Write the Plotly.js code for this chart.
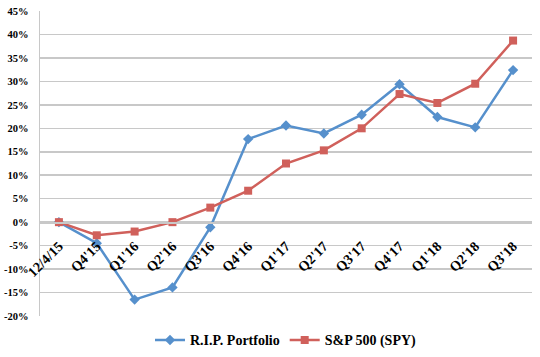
<!DOCTYPE html>
<html>
<head>
<meta charset="utf-8">
<script src="https://cdn.plot.ly/plotly-3.0.1.min.js"></script>
<style>html,body{margin:0;padding:0;background:#fff;}#chart{width:540px;height:357px;}</style>
</head>
<body>
<div id="chart"></div>
<script>
const categories = ["12/4/15","Q4'15","Q1'16","Q2'16","Q3'16","Q4'16","Q1'17","Q2'17","Q3'17","Q4'17","Q1'18","Q2'18","Q3'18"];
const ripPortfolio = [0, -4.5, -16.5, -13.9, -1.1, 17.7, 20.6, 18.9, 22.9, 29.4, 22.4, 20.2, 32.4];
const spy = [0, -2.8, -2.0, 0, 3.1, 6.7, 12.5, 15.3, 20.0, 27.3, 25.4, 29.5, 38.7];
const yTicks = [-20,-15,-10,-5,0,5,10,15,20,25,30,35,40,45];

const serif = "Liberation Serif, Times New Roman, serif";
const gridCol = "#c8c8c8";
const blue = "#5690CC", red = "#D0605B";
const yMin = -20, yMax = 45;

const traces = [
  {x: categories, y: ripPortfolio, name: "R.I.P. Portfolio", type: "scatter", mode: "lines+markers",
   line: {color: blue, width: 2.5}, marker: {symbol: "diamond", size: 8, color: blue}},
  {x: categories, y: spy, name: "S&P 500 (SPY)", type: "scatter", mode: "lines+markers",
   line: {color: red, width: 2.5}, marker: {symbol: "square", size: 8, color: red}}
];

const layout = {
  width: 540, height: 357,
  margin: {l: 40, r: 8, t: 11, b: 40.5, autoexpand: false},
  paper_bgcolor: "#fff", plot_bgcolor: "#fff",
  showlegend: true,
  legend: {orientation: "h", x: 0.5, xanchor: "center", y: -0.08, yanchor: "middle",
           font: {family: serif, size: 14, color: "#000", weight: "bold"}},
  xaxis: {type: "category", anchor: "free", position: (0 - yMin) / (yMax - yMin),
          showgrid: false, showline: true, linecolor: gridCol, linewidth: 1.5,
          ticks: "", tickangle: -45, range: [-0.5, categories.length - 0.5],
          ticklabelstandoff: 9,
          tickfont: {family: serif, size: 14, color: "#000", weight: "bold"},
          zeroline: false},
  yaxis: {range: [yMin, yMax], tickvals: yTicks, ticktext: yTicks.map(v => v + "%"),
          showgrid: true, gridcolor: gridCol, gridwidth: 1.5,
          showline: true, linecolor: gridCol, linewidth: 1.5,
          zeroline: false, ticks: "", ticklabelstandoff: 8,
          tickfont: {family: serif, size: 10.5, color: "#000", weight: "bold"}}
};

Plotly.newPlot("chart", traces, layout, {displayModeBar: false, staticPlot: true});
</script>
</body>
</html>
